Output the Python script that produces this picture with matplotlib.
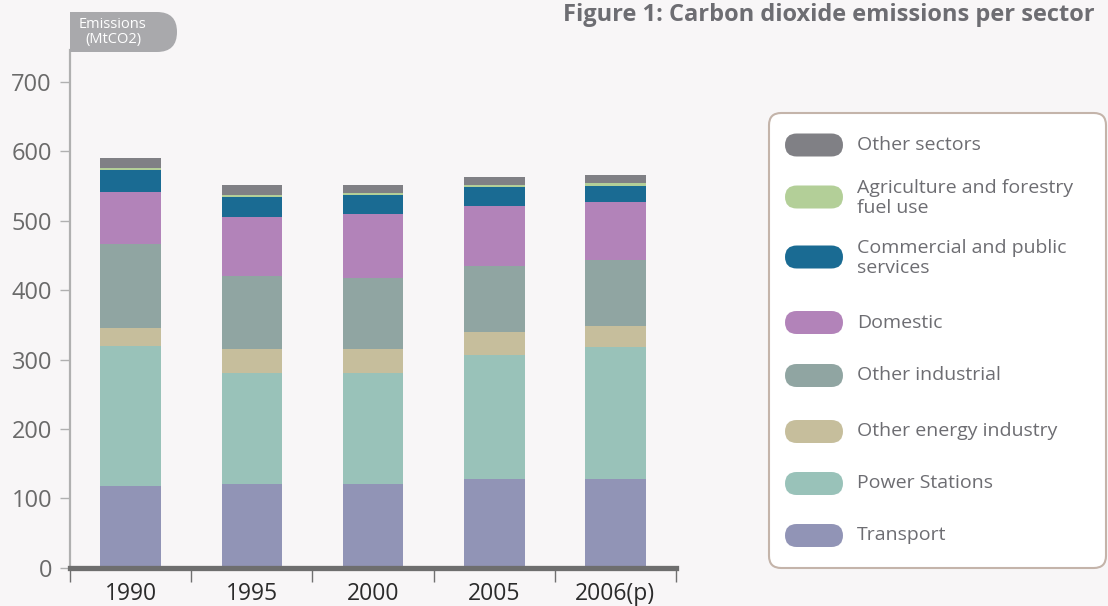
import numpy as np
import matplotlib.pyplot as plt
from matplotlib.patches import FancyBboxPatch, Rectangle

plt.rcParams['font.family'] = ['Open Sans', 'DejaVu Sans']

# Emissions per sector (MtCO2), stacked bottom to top
years = ["1990", "1995", "2000", "2005", "2006(p)"]
sectors = ["Transport", "Power Stations", "Other energy industry", "Other industrial",
           "Domestic", "Commercial and public\nservices", "Agriculture and forestry\nfuel use",
           "Other sectors"]
transport = [118, 121, 121, 128, 128]
power_stations = [202, 159, 159, 179, 190]
other_energy = [26, 35, 35, 33, 30]
other_industrial = [120, 105, 103, 95, 95]
domestic = [75, 85, 92, 86, 84]
commercial = [32, 29, 27, 27, 23]
agriculture = [3, 3, 3, 3, 4]
other_sectors = [14, 14, 11, 12, 12]

colors = ["#9194b6", "#99c2b9", "#c6be9c", "#90a5a2", "#b283b9", "#1a6b93", "#b3cf98", "#808085"]
series = [transport, power_stations, other_energy, other_industrial,
          domestic, commercial, agriculture, other_sectors]

W, H = 1108, 606
BG = "#f8f6f7"
TXT = "#6d6d72"

fig = plt.figure(figsize=(W / 100, H / 100), dpi=100, facecolor=BG)


def fx(px):
    return px / W


def fy(py):
    return 1 - py / H


ax = fig.add_axes([fx(70), fy(567.7), fx(676) - fx(70), fy(50) - fy(567.7)])
ax.set_facecolor(BG)

x = np.arange(len(years))
bottom = np.zeros(len(years))
for vals, col in zip(series, colors):
    ax.bar(x, vals, width=0.5, bottom=bottom, color=col, edgecolor="none", zorder=2)
    bottom += np.array(vals)

ax.set_xlim(-0.5, len(years) - 0.5)
ax.set_ylim(0, 746)

# y axis
ax.set_yticks(np.arange(0, 701, 100))
ax.tick_params(axis="y", direction="out", length=7, width=1, color="#b0b0b0",
               labelsize=17, labelcolor="#6a6a6a", pad=6)
ax.spines["left"].set_color("#b0b0b0")
ax.spines["left"].set_linewidth(1.6)

# x axis: ticks at the bar boundaries, labels under the bars
ax.set_xticks(np.arange(-0.5, len(years), 1.0))
ax.set_xticklabels([])
ax.set_xticks(x, minor=True)
ax.set_xticklabels(years, minor=True)
ax.tick_params(axis="x", which="major", direction="out", length=10, width=1, color="#707070")
ax.tick_params(axis="x", which="minor", length=0, labelsize=16.5, labelcolor="#2b2b2b", pad=10)
ax.spines["bottom"].set_color("#6e6e6e")
ax.spines["bottom"].set_linewidth(3.8)
ax.spines["bottom"].set_zorder(3)
for s in ("top", "right"):
    ax.spines[s].set_visible(False)

# axis label tab
tab = FancyBboxPatch((fx(70), fy(52)), fx(177) - fx(70), fy(12) - fy(52),
                     boxstyle="round,pad=0,rounding_size=0.018", transform=fig.transFigure,
                     facecolor="#a9a9ac", edgecolor="none", mutation_aspect=W / H)
fig.patches.append(tab)
fig.patches.append(Rectangle((fx(70), fy(52)), fx(120) - fx(70), fy(12) - fy(52),
                             transform=fig.transFigure, facecolor="#a9a9ac", edgecolor="none"))
fig.text(fx(113), fy(32), "Emissions\n(MtCO2)", color="white", fontsize=10.5,
         ha="center", va="center", linespacing=1.05, multialignment="center")

# title
fig.text(fx(563), fy(15), "Figure 1: Carbon dioxide emissions per sector", color=TXT,
         fontsize=17, fontweight="bold", ha="left", va="center")

# legend box
legend_box = FancyBboxPatch((fx(769), fy(568)), fx(1106) - fx(769), fy(113) - fy(568),
                            boxstyle="round,pad=0,rounding_size=0.011", transform=fig.transFigure,
                            facecolor="white", edgecolor="#c4b4aa", linewidth=1.5,
                            mutation_aspect=W / H)
fig.patches.append(legend_box)

pill_centers = [535.5, 483.5, 431.5, 375.5, 322.5, 257, 197, 145]
for name, col, cy in zip(sectors, colors, pill_centers):
    pill = FancyBboxPatch((fx(785), fy(cy + 11.5)), fx(843) - fx(785), fy(cy - 11.5) - fy(cy + 11.5),
                          boxstyle="round,pad=0,rounding_size=0.0105", transform=fig.transFigure,
                          facecolor=col, edgecolor="none", mutation_aspect=W / H)
    fig.patches.append(pill)
    if "\n" in name:
        fig.text(fx(857), fy(cy - 18), name, color=TXT, fontsize=14,
                 ha="left", va="top", linespacing=1.15)
    else:
        fig.text(fx(857), fy(cy), name, color=TXT, fontsize=14, ha="left", va="center")

fig.savefig("out.png", dpi=100, facecolor=BG)
